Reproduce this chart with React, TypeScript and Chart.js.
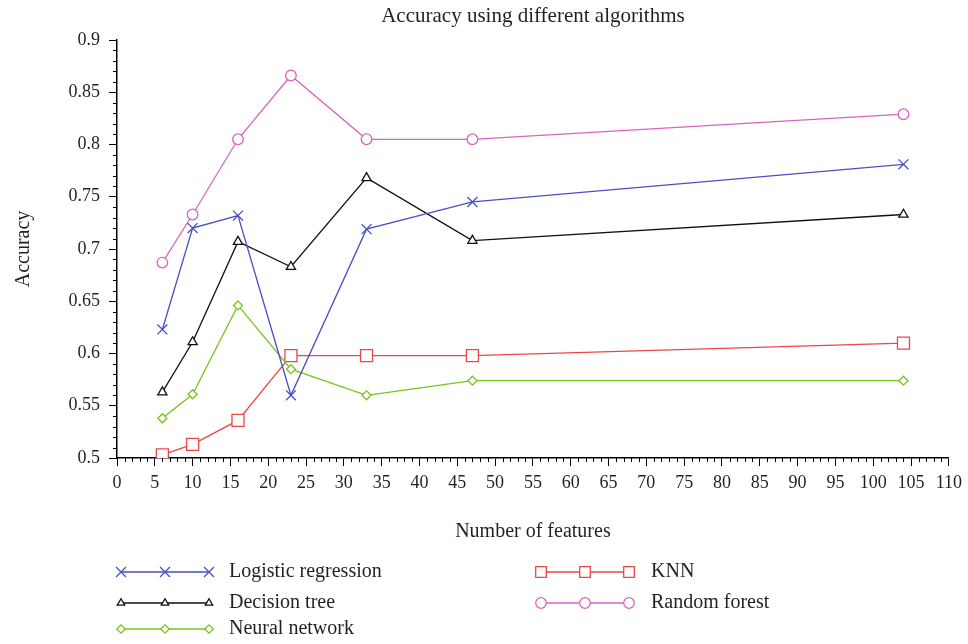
import React, { useEffect, useRef } from 'react';
import { Chart, registerables } from 'chart.js';
import { drawPoint } from 'chart.js/helpers';

Chart.register(...registerables);

const featureCounts = [6, 10, 16, 23, 33, 47, 104];
const logisticRegression = [0.623, 0.72, 0.732, 0.56, 0.719, 0.745, 0.781];
const decisionTree = [0.563, 0.611, 0.707, 0.683, 0.768, 0.708, 0.733];
const neuralNetwork = [0.538, 0.561, 0.646, 0.585, 0.56, 0.574, 0.574];
const knn = [0.503, 0.513, 0.536, 0.598, 0.598, 0.598, 0.61];
const randomForest = [0.687, 0.733, 0.805, 0.866, 0.805, 0.805, 0.829];

const seriesNames = ['Logistic regression', 'Decision tree', 'Neural network', 'KNN', 'Random forest'];
const chartTitle = 'Accuracy using different algorithms';
const xTitle = 'Number of features';
const yTitle = 'Accuracy';

const X_MIN = 0, X_MAX = 110, X_STEP = 5;
const Y_MIN = 0.5, Y_MAX = 0.9, Y_STEP = 0.05;

const FONT = '"Liberation Serif", "DejaVu Serif", serif';
const TEXT = '#231f20';

const styles = [
  { color: '#4b50c0', pointStyle: 'crossRot', radius: 7, legendRadius: 7 },
  { color: '#111111', pointStyle: 'triangle', radius: 5.3, legendRadius: 4.3 },
  { color: '#7ac41e', pointStyle: 'rectRot', radius: 4.5, legendRadius: 4.2 },
  { color: '#ee4646', pointStyle: 'rect', radius: 8.5, legendRadius: 7.5 },
  { color: '#d864c2', pointStyle: 'circle', radius: 5.3, legendRadius: 5.3 },
];

const seriesValues = [logisticRegression, decisionTree, neuralNetwork, knn, randomForest];

const titlePlugin = {
  id: 'centeredTitle',
  afterDraw(chart: any) {
    const { ctx, chartArea } = chart;
    ctx.save();
    ctx.fillStyle = TEXT;
    ctx.font = `21px ${FONT}`;
    ctx.textAlign = 'center';
    ctx.textBaseline = 'middle';
    ctx.fillText(chartTitle, (chartArea.left + chartArea.right) / 2, 16);
    ctx.restore();
  },
};

const minorTicksPlugin = {
  id: 'minorTicks',
  afterDraw(chart: any) {
    const { ctx, chartArea, scales } = chart;
    const x = scales.x, y = scales.y;
    ctx.save();
    ctx.strokeStyle = '#000';
    ctx.lineWidth = 1;
    ctx.beginPath();
    for (let v = X_MIN; v <= X_MAX; v++) {
      if (v % X_STEP === 0) continue;
      const px = Math.round(x.getPixelForValue(v)) + 0.5;
      ctx.moveTo(px, chartArea.bottom);
      ctx.lineTo(px, chartArea.bottom + 4);
    }
    for (let i = 0; i <= Math.round((Y_MAX - Y_MIN) * 100); i++) {
      if (i % 5 === 0) continue;
      const v = Y_MIN + i / 100;
      const py = Math.round(y.getPixelForValue(v)) + 0.5;
      ctx.moveTo(chartArea.left, py);
      ctx.lineTo(chartArea.left - 4, py);
    }
    ctx.stroke();
    ctx.restore();
  },
};

const legendPlugin = {
  id: 'customLegend',
  afterDraw(chart: any) {
    const { ctx } = chart;
    const H = chart.height;
    const cols = [
      { x: 121, text: 229 },
      { x: 541, text: 651 },
    ];
    const rowsY = [H - 72, H - 41, H - 15];
    const placement = [
      [0, 0], [0, 1], [0, 2], [1, 0], [1, 1],
    ];
    ctx.save();
    chart.data.datasets.forEach((ds: any, i: number) => {
      const [c, r] = placement[i];
      const col = cols[c];
      const yy = rowsY[r];
      const x0 = col.x, x1 = col.x + 88;
      ctx.strokeStyle = ds.borderColor;
      ctx.lineWidth = 1.3;
      ctx.beginPath();
      ctx.moveTo(x0, yy);
      ctx.lineTo(x1, yy);
      ctx.stroke();
      [x0, (x0 + x1) / 2, x1].forEach((px) => {
        ctx.fillStyle = '#fff';
        ctx.strokeStyle = ds.borderColor;
        ctx.lineWidth = 1.3;
        drawPoint(ctx, { pointStyle: ds.pointStyle, radius: styles[i].legendRadius, rotation: 0, borderWidth: 1.3 } as any, px, yy);
      });
      ctx.fillStyle = TEXT;
      ctx.font = `20px ${FONT}`;
      ctx.textBaseline = 'middle';
      ctx.textAlign = 'left';
      ctx.fillText(ds.label, col.text, yy);
    });
    ctx.restore();
  },
};

export default function App() {
  const ref = useRef<HTMLCanvasElement>(null);
  useEffect(() => {
    document.body.style.margin = '0';
    const canvas = ref.current!;
    const chart = new Chart(canvas, {
      type: 'line',
      data: {
        datasets: seriesValues.map((vals, i) => ({
          label: seriesNames[i],
          data: featureCounts.map((f, j) => ({ x: f, y: vals[j] })),
          borderColor: styles[i].color,
          backgroundColor: '#ffffff',
          pointBackgroundColor: '#ffffff',
          pointBorderColor: styles[i].color,
          pointStyle: styles[i].pointStyle as any,
          pointRadius: styles[i].radius,
          pointBorderWidth: 1.3,
          borderWidth: 1.3,
          tension: 0,
          fill: false,
        })),
      },
      options: {
        animation: false,
        responsive: false,
        layout: { padding: { left: 0, right: 18, top: 40, bottom: 96 } },
        plugins: {
          legend: { display: false },
          tooltip: { enabled: false },
          title: { display: false },
        },
        scales: {
          x: {
            type: 'linear',
            min: X_MIN,
            max: X_MAX,
            afterFit: (s: any) => { s.height = 90; },
            border: { display: true, color: '#000', width: 1.5 },
            grid: { drawOnChartArea: false, drawTicks: true, tickLength: 8, color: '#000' },
            ticks: {
              stepSize: X_STEP,
              color: TEXT,
              font: { family: FONT, size: 18 },
              padding: 6,
              maxRotation: 0,
              autoSkip: false,
            },
            title: {
              display: true,
              text: xTitle,
              color: TEXT,
              font: { family: FONT, size: 20 },
              padding: { top: 0, bottom: 4 },
            },
          },
          y: {
            type: 'linear',
            min: Y_MIN,
            max: Y_MAX,
            afterFit: (s: any) => { s.width = 117; },
            border: { display: true, color: '#000', width: 1.5 },
            grid: { drawOnChartArea: false, drawTicks: true, tickLength: 8, color: '#000' },
            ticks: {
              stepSize: Y_STEP,
              color: TEXT,
              font: { family: FONT, size: 18 },
              padding: 9,
              callback: (v: any) => String(Number(Number(v).toFixed(2))),
            },
            title: {
              display: true,
              text: yTitle,
              color: TEXT,
              font: { family: FONT, size: 20 },
              padding: { top: 12, bottom: 0 },
            },
          },
        },
      },
      plugins: [minorTicksPlugin, legendPlugin, titlePlugin],
    });
    return () => chart.destroy();
  }, []);
  return (
    <div style={{ position: 'absolute', left: 0, top: 0 }}>
      <canvas ref={ref} width={968} height={644} />
    </div>
  );
}
